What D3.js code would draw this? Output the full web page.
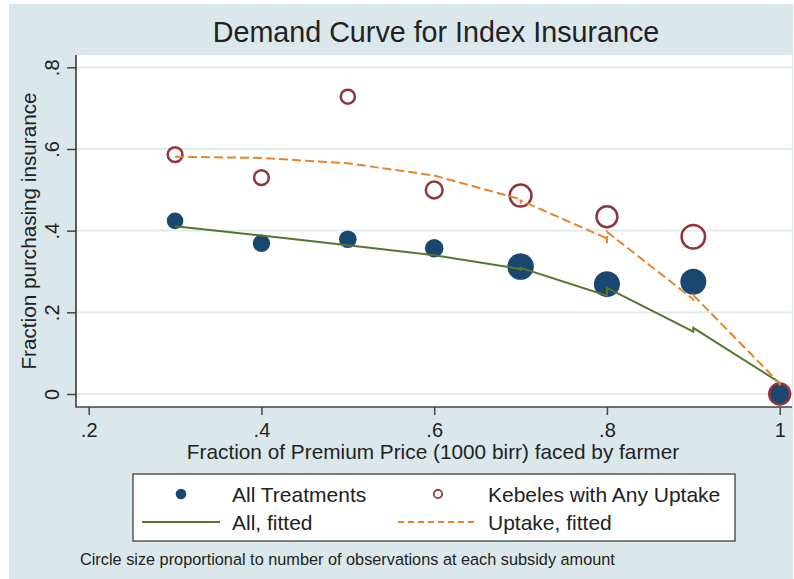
<!DOCTYPE html>
<html>
<head>
<meta charset="utf-8">
<script src="https://cdn.jsdelivr.net/npm/d3@7"></script>
<style>
  body { margin: 0; background: #fff; }
  svg { display: block; font-family: "Liberation Sans", Arial, sans-serif; }
</style>
</head>
<body>
<div class="chart-container"></div>
<script>
const w = 794,
      h = 579;

// subsidy levels (fraction of premium price faced by farmer)
const prices = [0.3, 0.4, 0.5, 0.6, 0.7, 0.8, 0.9, 1.0];
// fraction purchasing, all treatments / kebeles with any uptake
const allShare = [0.424, 0.369, 0.379, 0.357, 0.312, 0.269, 0.275, 0.0];
const uptakeShare = [0.586, 0.530, 0.728, 0.4995, 0.486, 0.434, 0.385, 0.0];
// relative number of observations (marker area)
const allObs = [69, 76, 78, 85, 177, 169, 169, 121];
const uptakeObs = [55, 55, 50, 71, 120, 109, 138, 109];

// fitted values, sorted by price (repeated prices = several fitted values)
const fitAllX = [0.3, 0.4, 0.5, 0.6, 0.7, 0.7, 0.7, 0.8, 0.8, 0.9, 0.9, 1.0];
const fitAllY = [0.411, 0.388, 0.364, 0.340, 0.306, 0.301, 0.309, 0.241, 0.260, 0.153, 0.162, 0.028];
const fitUpX = [0.3, 0.4, 0.5, 0.6, 0.7, 0.7, 0.7, 0.8, 0.8, 0.8, 0.9, 0.9, 0.9, 1.0, 1.0];
const fitUpY = [0.581, 0.578, 0.565, 0.535, 0.477, 0.466, 0.474, 0.381, 0.369, 0.397, 0.232, 0.228, 0.242, 0.026, 0.010];

const xTicks = [0.2, 0.4, 0.6, 0.8, 1];
const yTicks = [0, 0.2, 0.4, 0.6, 0.8];

const navy = '#1a476f',
      maroon = '#90353b',
      green = '#55752f',
      orange = '#e8842a',
      bg = '#dae8ec';

const plot = { left: 76, right: 792, top: 55, bottom: 407 };

const svg = d3
  .select('.chart-container')
  .append('svg')
  .attr('width', w)
  .attr('height', h);

svg.append('rect')
  .attr('x', 9)
  .attr('y', 4)
  .attr('width', w - 10)
  .attr('height', h - 4)
  .style('fill', bg);

svg.append('rect')
  .attr('x', plot.left)
  .attr('y', plot.top)
  .attr('width', plot.right - plot.left)
  .attr('height', plot.bottom - plot.top)
  .style('fill', '#fff');

const xScale = d3.scaleLinear()
  .domain([0.2, 1])
  .range([88.7, 779.7]);

const yScale = d3.scaleLinear()
  .domain([0, 0.8])
  .range([394, 67.3]);

const rScale = d3.scaleSqrt()
  .domain([0, 180])
  .range([0, 13.4]);

const fmt = d => d3.format('~g')(d).replace(/^0\./, '.');

// grid
svg.append('g')
  .selectAll('line')
  .data(yTicks)
  .enter()
  .append('line')
  .attr('x1', plot.left)
  .attr('x2', plot.right)
  .attr('y1', d => yScale(d))
  .attr('y2', d => yScale(d))
  .style('stroke', '#e0eaed')
  .style('stroke-width', 1.8);

// markers
const allPts = prices.map((p, i) => ({ x: p, y: allShare[i], n: allObs[i] }));
const upPts = prices.map((p, i) => ({ x: p, y: uptakeShare[i], n: uptakeObs[i] }));

svg.append('g')
  .selectAll('circle')
  .data(allPts)
  .enter()
  .append('circle')
  .attr('cx', d => xScale(d.x))
  .attr('cy', d => yScale(d.y))
  .attr('r', d => rScale(d.n))
  .style('fill', navy);

svg.append('g')
  .selectAll('circle')
  .data(upPts)
  .enter()
  .append('circle')
  .attr('cx', d => xScale(d.x))
  .attr('cy', d => yScale(d.y))
  .attr('r', d => rScale(d.n))
  .style('fill', 'none')
  .style('stroke', maroon)
  .style('stroke-width', 2.5);

// fitted lines
const line = d3.line()
  .x(d => xScale(d[0]))
  .y(d => yScale(d[1]));

svg.append('path')
  .datum(d3.zip(fitAllX, fitAllY))
  .attr('d', line)
  .style('fill', 'none')
  .style('stroke', green)
  .style('stroke-width', 2);

svg.append('path')
  .datum(d3.zip(fitUpX, fitUpY))
  .attr('d', line)
  .style('fill', 'none')
  .style('stroke', orange)
  .style('stroke-width', 2)
  .style('stroke-dasharray', '9,4');

// axes
const xAxis = d3.axisBottom(xScale).tickValues(xTicks).tickFormat(fmt).tickSize(8).tickSizeOuter(0);
const yAxis = d3.axisLeft(yScale).tickValues(yTicks).tickFormat(fmt).tickSize(9).tickSizeOuter(0);

const gx = svg.append('g')
  .attr('transform', `translate(0, ${plot.bottom})`)
  .call(xAxis);

const gy = svg.append('g')
  .attr('transform', `translate(${plot.left}, 0)`)
  .call(yAxis);

[gx, gy].forEach(g => {
  g.select('.domain').remove();
  g.selectAll('.tick line').style('stroke', '#444').style('stroke-width', 1.5);
  g.selectAll('.tick text')
    .style('font-family', '"Liberation Sans", Arial, sans-serif')
    .style('font-size', '20px')
    .style('fill', '#222');
});

gx.selectAll('.tick text')
  .attr('y', 29.5)
  .attr('dy', 0);

gy.selectAll('.tick text')
  .attr('transform', 'rotate(-90)')
  .attr('x', 0)
  .attr('y', -17)
  .attr('dy', 0)
  .style('text-anchor', 'middle');

svg.append('path')
  .attr('d', `M${plot.left},${plot.top}V${plot.bottom}H${plot.right}`)
  .style('fill', 'none')
  .style('stroke', '#444')
  .style('stroke-width', 1.7);

// titles
svg.append('text')
  .attr('x', 436)
  .attr('y', 41.5)
  .style('text-anchor', 'middle')
  .style('font-size', '28.7px')
  .style('fill', '#222')
  .text('Demand Curve for Index Insurance');

svg.append('text')
  .attr('x', 433)
  .attr('y', 459)
  .style('text-anchor', 'middle')
  .style('font-size', '20.8px')
  .style('fill', '#222')
  .text('Fraction of Premium Price (1000 birr) faced by farmer');

svg.append('text')
  .attr('transform', `translate(36, ${(plot.top + plot.bottom) / 2}) rotate(-90)`)
  .style('text-anchor', 'middle')
  .style('font-size', '20.7px')
  .style('fill', '#222')
  .text('Fraction purchasing insurance');

// legend
const legend = svg.append('g').attr('id', 'legend');

legend.append('rect')
  .attr('x', 133)
  .attr('y', 474)
  .attr('width', 602)
  .attr('height', 67)
  .style('fill', '#fff')
  .style('stroke', '#333')
  .style('stroke-width', 1.2);

const items = [
  { label: 'All Treatments', type: 'dot', x: 142, y: 494 },
  { label: 'Kebeles with Any Uptake', type: 'ring', x: 398, y: 494 },
  { label: 'All, fitted', type: 'solid', x: 142, y: 522 },
  { label: 'Uptake, fitted', type: 'dash', x: 398, y: 522 }
];

const key = legend.selectAll('.legend-item')
  .data(items)
  .enter()
  .append('g')
  .attr('class', 'legend-item')
  .attr('transform', d => `translate(${d.x}, ${d.y})`);

key.filter(d => d.type === 'dot')
  .append('circle')
  .attr('cx', 39)
  .attr('r', 5.3)
  .style('fill', navy);

key.filter(d => d.type === 'ring')
  .append('circle')
  .attr('cx', 40)
  .attr('r', 4.2)
  .style('fill', 'none')
  .style('stroke', maroon)
  .style('stroke-width', 1.7);

key.filter(d => d.type === 'solid' || d.type === 'dash')
  .append('line')
  .attr('x1', 0)
  .attr('x2', 78)
  .style('stroke', d => d.type === 'solid' ? green : orange)
  .style('stroke-width', 2)
  .style('stroke-dasharray', d => d.type === 'dash' ? '6,4' : null);

key.append('text')
  .attr('x', 90)
  .attr('y', 7.5)
  .style('font-size', '21px')
  .style('fill', '#222')
  .text(d => d.label);

svg.append('text')
  .attr('x', 80)
  .attr('y', 565)
  .style('font-size', '16.3px')
  .style('fill', '#222')
  .text('Circle size proportional to number of observations at each subsidy amount');
</script>
</body>
</html>
